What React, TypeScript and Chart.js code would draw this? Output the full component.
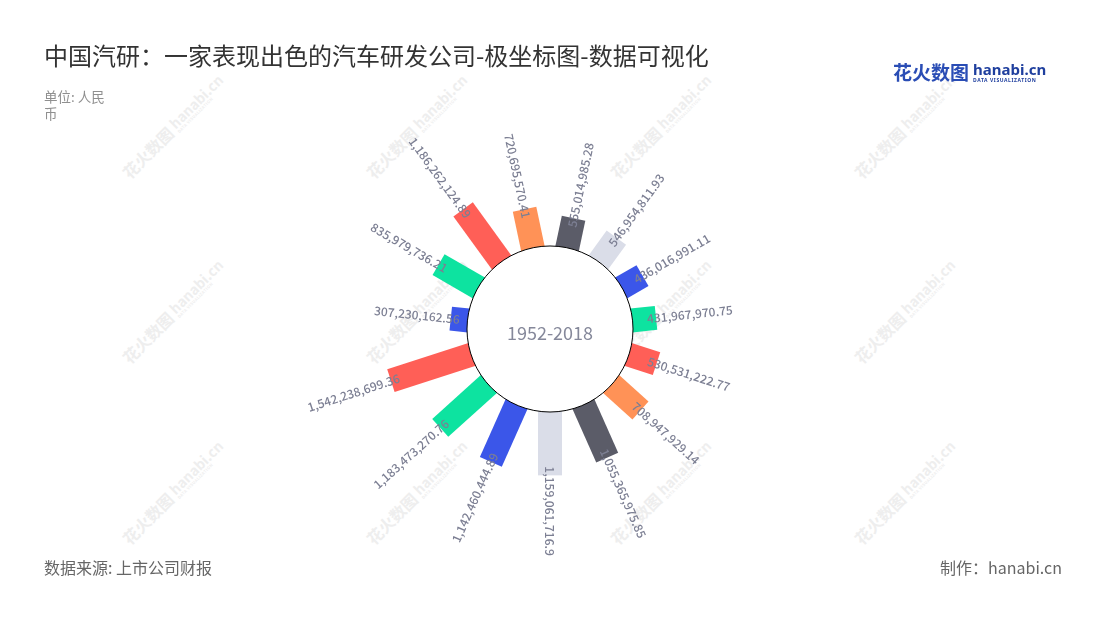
import React, { useEffect, useRef } from "react";
import { Chart, registerables, ArcElement, PolarAreaController } from "chart.js";

Chart.register(...registerables);

// ---------------- data ----------------
const categories = ["01", "02", "03", "04", "05", "06", "07", "08", "09", "10", "11", "12", "13", "14", "15"];
const values = [
  555014985.28, 546954811.93, 436016991.11, 431967970.75, 530531222.77,
  708947929.14, 1055365975.85, 1159061716.9, 1142460444.89, 1183473270.76,
  1542238699.36, 307230162.56, 835979736.21, 1186262124.89, 720695570.41,
];
const barColors = [
  "#5b5c68", "#dadde8", "#3b56e9", "#0de3a0", "#ff5f57",
  "#ff9257", "#5b5c68", "#dadde8", "#3b56e9", "#0de3a0",
  "#ff5f57", "#3b56e9", "#0de3a0", "#ff5f57", "#ff9257",
];
const centerLabel = "1952-2018";
const titleText = "中国汽研：一家表现出色的汽车研发公司-极坐标图-数据可视化";
const unitText = "单位: 人民币";
const sourceText = "数据来源: 上市公司财报";
const creditText = "制作：hanabi.cn";
const radialMin = -1.519e9;
const radialMax = 3.056e9;

// ---------------- styles ----------------
const BAR_WIDTH = 24;
const LABEL_COLOR = "#7c7f93";
const FONT = '"Noto Sans CJK SC", "Noto Sans", sans-serif';

class RadialBarElement extends ArcElement {
  static id = "radialBar";
  static defaults = { ...(ArcElement as any).defaults };
  static defaultRoutes = { ...(ArcElement as any).defaultRoutes };
  static descriptors = (ArcElement as any).descriptors;
  draw(ctx: CanvasRenderingContext2D) {
    const p: any = (this as any).getProps(["x", "y", "startAngle", "endAngle", "innerRadius", "outerRadius"]);
    const mid = (p.startAngle + p.endAngle) / 2;
    ctx.save();
    ctx.translate(p.x, p.y);
    ctx.rotate(mid);
    ctx.fillStyle = (this as any).options.backgroundColor;
    ctx.fillRect(p.innerRadius - 6, -BAR_WIDTH / 2, p.outerRadius - p.innerRadius + 6, BAR_WIDTH);
    ctx.restore();
  }
}

class PolarBarController extends PolarAreaController {
  static id = "polarBar";
  static defaults = { ...(PolarAreaController as any).defaults, dataElementType: "radialBar" };
  static overrides = (PolarAreaController as any).overrides;
  updateElement(element: any, index: number, properties: any, mode: any) {
    if (properties) {
      const scale = (this as any)._cachedMeta.rScale;
      properties.innerRadius = scale.getDistanceFromCenterForValue(0);
    }
    (super.updateElement as any)(element, index, properties, mode);
  }
}

Chart.register(RadialBarElement as any, PolarBarController as any);

const fmt = (v: number) => v.toLocaleString("en-US", { maximumFractionDigits: 2 });

const overlayPlugin = {
  id: "polarOverlay",
  afterDatasetsDraw(chart: any) {
    const ctx: CanvasRenderingContext2D = chart.ctx;
    const scale = chart.scales.r;
    const cx = scale.xCenter;
    const cy = scale.yCenter;
    const r0 = scale.getDistanceFromCenterForValue(0);
    ctx.save();
    ctx.beginPath();
    ctx.arc(cx, cy, r0, 0, Math.PI * 2);
    ctx.fillStyle = "#ffffff";
    ctx.fill();
    ctx.lineWidth = 1;
    ctx.strokeStyle = "#000000";
    ctx.stroke();

    ctx.fillStyle = "#85889a";
    ctx.font = `18px ${FONT}`;
    ctx.textAlign = "center";
    ctx.textBaseline = "middle";
    ctx.fillText(centerLabel, cx, cy + 4);

    const meta = chart.getDatasetMeta(0);
    ctx.font = `500 12px ${FONT}`;
    meta.data.forEach((el: any, i: number) => {
      const a = (el.startAngle + el.endAngle) / 2;
      let n = a;
      while (n < -Math.PI) n += Math.PI * 2;
      while (n >= Math.PI) n -= Math.PI * 2;
      const right = n > -Math.PI / 2 + 1e-6 && n <= Math.PI / 2 + 1e-6;
      const r = el.outerRadius - 9;
      const px = cx + r * Math.cos(a);
      const py = cy + r * Math.sin(a);
      ctx.save();
      ctx.translate(px, py);
      if (right) {
        ctx.rotate(a);
        ctx.textAlign = "left";
      } else {
        ctx.rotate(a + Math.PI);
        ctx.textAlign = "right";
      }
      ctx.textBaseline = "middle";
      ctx.fillStyle = LABEL_COLOR;
      ctx.fillText(fmt(values[i]), 0, 0);
      ctx.restore();
    });
    ctx.restore();
  },
};

const wmCols = [132, 376, 620, 864];
const wmRows = [182, 367, 548];

function Watermark({ x, y }: { x: number; y: number }) {
  return (
    <div
      style={{
        position: "absolute",
        left: x,
        top: y - 20,
        height: 20,
        whiteSpace: "nowrap",
        transform: "rotate(-45deg)",
        transformOrigin: "0 100%",
        color: "#eeeeee",
        fontFamily: FONT,
        fontWeight: 700,
        display: "flex",
        alignItems: "center",
      }}
    >
      <span style={{ fontSize: 16, lineHeight: "20px" }}>花火数图</span>
      <span style={{ display: "inline-flex", flexDirection: "column", marginLeft: 4 }}>
        <span style={{ fontSize: 14, lineHeight: "14px" }}>hanabi.cn</span>
        <span style={{ fontSize: 4, lineHeight: "5px", letterSpacing: 0.4 }}>DATA VISUALIZATION</span>
      </span>
    </div>
  );
}

export default function App() {
  const canvasRef = useRef<HTMLCanvasElement | null>(null);
  useEffect(() => {
    if (!canvasRef.current) return;
    const chart = new Chart(canvasRef.current, {
      type: "polarBar" as any,
      data: {
        labels: categories,
        datasets: [
          {
            data: values,
            backgroundColor: barColors,
            borderWidth: 0,
          } as any,
        ],
      },
      options: {
        animation: false,
        responsive: false,
        layout: { padding: { top: 79, bottom: 41, left: 300, right: 300 } },
        plugins: { legend: { display: false }, tooltip: { enabled: false } },
        scales: {
          r: {
            min: radialMin,
            max: radialMax,
            ticks: { display: false },
            grid: { display: false },
            angleLines: { display: false },
            pointLabels: { display: false },
          },
        },
      } as any,
      plugins: [overlayPlugin as any],
    });
    return () => chart.destroy();
  }, []);

  const watermarks = [];
  for (const y of wmRows) for (const x of wmCols) watermarks.push(<Watermark key={`${x}-${y}`} x={x} y={y} />);

  return (
    <div
      style={{
        position: "absolute",
        left: 0,
        top: 0,
        width: 1100,
        height: 620,
        background: "#ffffff",
        overflow: "hidden",
        fontFamily: FONT,
      }}
    >
      {watermarks}
      <canvas ref={canvasRef} width={1100} height={620} style={{ position: "absolute", left: 0, top: 0, width: 1100, height: 620 }} />
      <div style={{ position: "absolute", left: 44, top: 43, fontSize: 24, lineHeight: "24px", color: "#333333", whiteSpace: "nowrap" }}>
        {titleText}
      </div>
      <div style={{ position: "absolute", left: 44, top: 88, width: 72, fontSize: 13.5, lineHeight: "17px", color: "#8f8f8f" }}>
        {unitText}
      </div>
      <div style={{ position: "absolute", left: 893, top: 61, display: "flex", alignItems: "center", whiteSpace: "nowrap" }}>
        <span style={{ fontSize: 19, lineHeight: "22px", fontWeight: 700, color: "#2a4db5" }}>花火数图</span>
        <span style={{ display: "inline-flex", flexDirection: "column", marginLeft: 4 }}>
          <span style={{ fontSize: 15, lineHeight: "15px", fontWeight: 700, color: "#1f3f9e", fontFamily: '"Noto Sans", sans-serif' }}>hanabi.cn</span>
          <span style={{ fontSize: 5, lineHeight: "6px", fontWeight: 700, color: "#1f3f9e", letterSpacing: 0.6, fontFamily: '"Noto Sans", sans-serif' }}>DATA VISUALIZATION</span>
        </span>
      </div>
      <div style={{ position: "absolute", left: 44, top: 559, fontSize: 16, lineHeight: "16px", color: "#666666", whiteSpace: "nowrap" }}>
        {sourceText}
      </div>
      <div style={{ position: "absolute", right: 38, top: 559, fontSize: 16, lineHeight: "16px", color: "#666666", whiteSpace: "nowrap" }}>
        {creditText}
      </div>
    </div>
  );
}
